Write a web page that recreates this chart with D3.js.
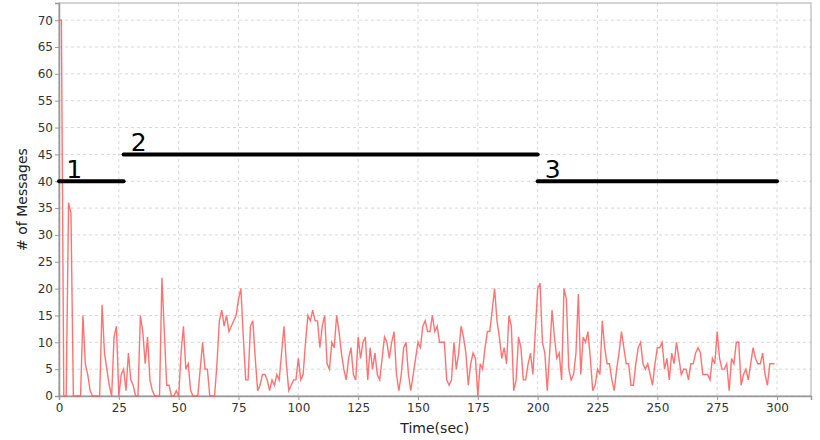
<!DOCTYPE html>
<html>
<head>
<meta charset="utf-8">
<style>
body { margin: 0; background: #fff; }
svg text { font-family: "DejaVu Sans", sans-serif; }
.grid line { stroke: #d8d8d8; stroke-dasharray: 3,3; }
.axis path, .axis line { stroke: #999; }
.axis text { font-size: 12px; fill: #333; }
</style>
</head>
<body>
<svg width="820" height="440"></svg>
<script src="https://d3js.org/d3.v7.min.js"></script>
<script>
// messages per second (t = 0..299)
var messages = [
  70,70,0,0,36,34,0,0,0,0, 15,6,4,1,0,0,0,0,17,8,
  5,2,0,11,13,0,4,5,1,8, 3,2,0,0,15,12,6,11,3,1,
  0,0,0,22,12,2,2,0,0,1, 0,8,13,5,6,1,0,0,0,5,
  10,5,5,0,0,0,6,14,16,13, 15,12,13,14,15,18,20,11,3,3,
  13,14,7,1,2,4,4,3,1,3, 2,4,3,8,13,6,1,2,3,3,
  7,3,4,10,15,14,16,14,14,9, 13,15,6,5,10,9,15,12,8,5,
  3,7,9,4,3,11,7,10,11,3, 9,5,8,4,3,7,11,10,7,10,
  12,4,1,4,9,10,4,1,4,7, 10,9,13,14,12,12,15,12,13,10,
  10,10,3,2,3,10,5,8,13,11, 8,2,6,8,7,0,6,5,9,12,
  12,16,20,14,11,7,9,6,15,13, 1,3,11,9,3,3,6,8,4,12,
  20,21,10,8,1,8,16,11,7,8, 3,20,18,5,3,4,8,19,4,11,
  10,12,7,1,2,5,4,14,9,6, 6,3,1,5,8,12,9,6,6,2,
  2,6,9,10,6,5,6,4,2,6, 9,9,10,5,7,3,8,6,10,7,
  4,5,5,3,6,6,8,9,8,4, 4,4,3,7,6,12,7,5,5,6,
  1,7,6,10,10,2,4,5,3,6, 9,7,6,6,8,4,2,6,6,6
];

// phases marked on the chart
var phaseNames = ["1", "2", "3"];
var phaseStart = [0, 27, 200];
var phaseEnd = [27, 200, 300];
var phaseLevel = [40, 45, 40];

var xTicks = [0, 25, 50, 75, 100, 125, 150, 175, 200, 225, 250, 275, 300];
var yTicks = d3.range(0, 75, 5);

var svg = d3.select("svg");
var margin = {left: 59, right: 9, top: 3, bottom: 44};
var w = 820 - margin.left - margin.right,
    h = 440 - margin.top - margin.bottom;

var x = d3.scaleLinear().domain([0, 314.2]).range([0, w]);
var y = d3.scaleLinear().domain([0, 73.2]).range([h, 0]);

var g = svg.append("g").attr("transform", "translate(" + margin.left + "," + margin.top + ")");

// grid
g.append("g").attr("class", "grid")
  .selectAll("line").data(xTicks).enter().append("line")
    .attr("x1", function(d) { return x(d); }).attr("x2", function(d) { return x(d); })
    .attr("y1", 0).attr("y2", h);
g.append("g").attr("class", "grid")
  .selectAll("line").data(yTicks).enter().append("line")
    .attr("x1", 0).attr("x2", w)
    .attr("y1", function(d) { return y(d); }).attr("y2", function(d) { return y(d); });

// plot frame
g.append("rect").attr("width", w).attr("height", h)
  .attr("fill", "none").attr("stroke", "#aaa");

g.append("g").attr("class", "axis")
  .attr("transform", "translate(0," + h + ")")
  .call(d3.axisBottom(x).tickValues(xTicks).tickSize(4).tickPadding(3));
g.append("g").attr("class", "axis")
  .call(d3.axisLeft(y).tickValues(yTicks).tickSize(4).tickPadding(2));
g.selectAll(".axis .domain").attr("stroke", "#999").attr("stroke-width", 1.5);

// data line
var line = d3.line()
  .x(function(d, i) { return x(i); })
  .y(function(d) { return y(d); });
g.append("path").datum(messages)
  .attr("d", line)
  .attr("fill", "none")
  .attr("stroke", "#ff5a5a")
  .attr("stroke-opacity", 0.85)
  .attr("stroke-width", 1.4);

// phases
phaseNames.forEach(function(name, i) {
  g.append("line")
    .attr("x1", x(phaseStart[i])).attr("x2", x(phaseEnd[i]))
    .attr("y1", y(phaseLevel[i])).attr("y2", y(phaseLevel[i]))
    .attr("stroke", "#000").attr("stroke-width", 4).attr("stroke-linecap", "round");
  g.append("text")
    .attr("x", x(phaseStart[i] + 3))
    .attr("y", y(phaseLevel[i]) - 3)
    .attr("font-size", 25)
    .attr("fill", "#000")
    .text(name);
});

svg.append("text")
  .attr("x", margin.left + x(157)).attr("y", 433)
  .attr("text-anchor", "middle").attr("font-size", 14).attr("fill", "#222")
  .text("Time(sec)");
svg.append("text")
  .attr("transform", "translate(27," + (margin.top + h / 2) + ") rotate(-90)")
  .attr("text-anchor", "middle").attr("font-size", 14).attr("fill", "#222")
  .text("# of Messages");
</script>
</body>
</html>
